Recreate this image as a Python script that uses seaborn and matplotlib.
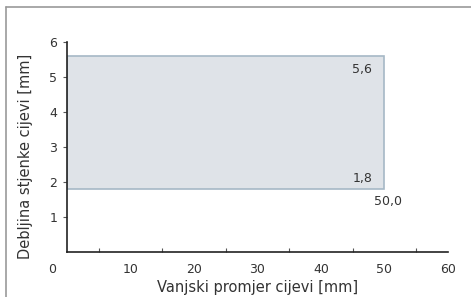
import matplotlib
matplotlib.use("Agg")
import matplotlib.pyplot as plt
import matplotlib.transforms as mtransforms
from matplotlib.lines import Line2D
import seaborn as sns

# range of pipe sizes
diameter_range = [0.0, 50.0]
wall_min = 1.8
wall_max = 5.6
x_ticks = [0, 10, 20, 30, 40, 50, 60]
y_ticks = [1, 2, 3, 4, 5, 6]
annotations = [("5,6", 46.5, 5.2), ("1,8", 46.5, 2.1), ("50,0", 50.6, 1.43)]

sns.set_style("ticks")
plt.rcParams["font.family"] = ["DejaVu Sans"]
text_color = "#333333"

fig = plt.figure(figsize=(4.71, 2.97), dpi=100)
ax = fig.add_axes([0.1423, 0.1515, 0.8087, 0.7071])

ax.bar(diameter_range[0], wall_max - wall_min, width=diameter_range[1] - diameter_range[0],
       bottom=wall_min, align="edge", color="#dfe3e8", edgecolor="#a6b8c6", linewidth=1.2,
       zorder=1)

for label, x, y in annotations:
    ax.text(x, y, label, ha="center", va="center", fontsize=9, color=text_color)

ax.set_xlim(0, 60)
ax.set_ylim(0, 6)
ax.set_xticks(x_ticks)
ax.set_xticklabels([str(t) for t in x_ticks])
ax.set_xticks([5, 15, 25, 35, 45, 55, 60], minor=True)
ax.set_yticks(y_ticks)
ax.tick_params(axis="x", which="major", length=0, labelsize=9, labelcolor=text_color, pad=8)
ax.tick_params(axis="x", which="minor", direction="in", length=3, width=0.8, color="#555555")
ax.tick_params(axis="y", direction="out", length=3, width=0.8, color="#555555",
               labelsize=9, labelcolor=text_color, pad=4)

# the "0" label sits left of the origin in the original
offset = mtransforms.ScaledTranslation(-15 / 100, 0, fig.dpi_scale_trans)
lbl0 = ax.get_xticklabels()[0]
lbl0.set_transform(lbl0.get_transform() + offset)

for side in ["left", "bottom"]:
    ax.spines[side].set_linewidth(1.2)
    ax.spines[side].set_color("#222222")
sns.despine(ax=ax)

ax.set_xlabel("Vanjski promjer cijevi [mm]", fontsize=10.5, color=text_color, labelpad=3)
ax.set_ylabel("Debljina stjenke cijevi [mm]", fontsize=10.5, color=text_color)
ax.yaxis.set_label_coords(-0.089, 0.457)

# thin frame at top and left of the image
fig.add_artist(Line2D([6 / 471, 6 / 471], [0, 1 - 7 / 297], color="#999999", lw=1.2,
                      transform=fig.transFigure))
fig.add_artist(Line2D([6 / 471, 1], [1 - 7 / 297, 1 - 7 / 297], color="#999999", lw=1.2,
                      transform=fig.transFigure))

fig.savefig("out.png", dpi=100)
